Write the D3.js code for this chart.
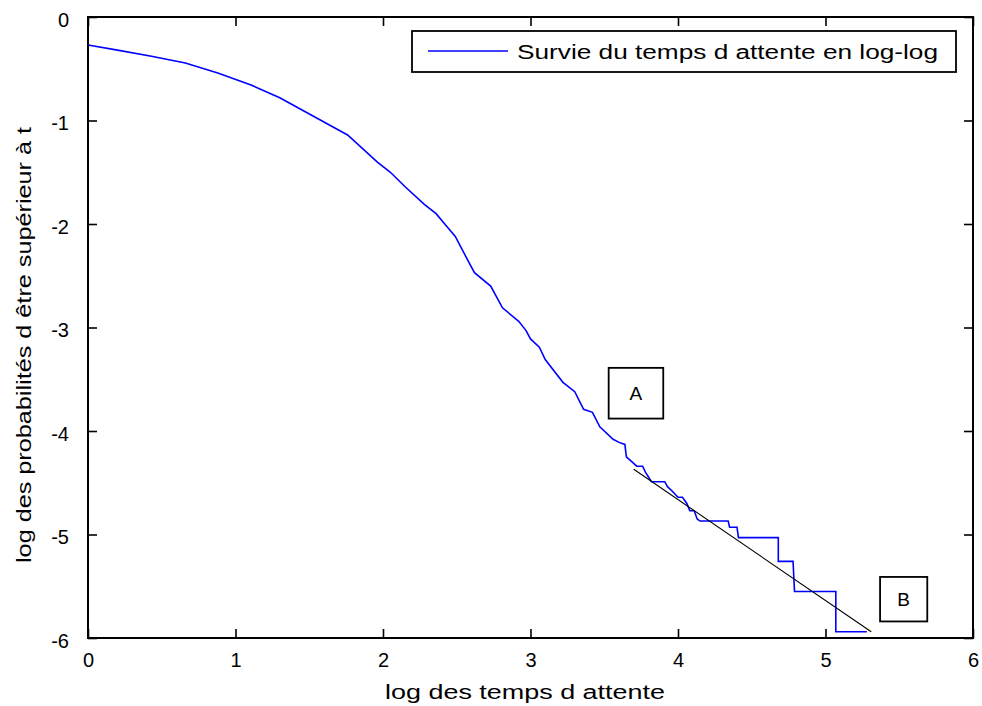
<!DOCTYPE html>
<html>
<head>
<meta charset="utf-8">
<script src="https://cdn.jsdelivr.net/npm/d3@7"></script>
<style>
  html, body { margin: 0; padding: 0; background: #fff; }
  svg { display: block; }
  text { font-family: "Liberation Sans", Arial, sans-serif; fill: #000; }
</style>
</head>
<body>
<svg id="chart" width="982" height="706"></svg>
<script>
// ---- data ----
const xTicks = [0, 1, 2, 3, 4, 5, 6];
const yTicks = [0, -1, -2, -3, -4, -5, -6];
const survX = [0, 0.2, 0.43, 0.66, 0.88, 1.11, 1.30, 1.51, 1.76, 1.96, 2.05, 2.15, 2.28, 2.36, 2.43, 2.49, 2.56, 2.62, 2.73, 2.81, 2.92, 2.97, 3.00, 3.06, 3.10, 3.16, 3.22, 3.30, 3.36, 3.42, 3.47, 3.56, 3.60, 3.64, 3.65, 3.69, 3.72, 3.76, 3.78, 3.82, 3.91, 3.93, 3.96, 4.00, 4.03, 4.06, 4.08, 4.11, 4.13, 4.15, 4.34, 4.35, 4.40, 4.41, 4.68, 4.68, 4.78, 4.79, 5.07, 5.07, 5.28];
const survY = [-0.27, -0.32, -0.38, -0.445, -0.54, -0.66, -0.78, -0.945, -1.14, -1.40, -1.50, -1.64, -1.81, -1.90, -2.02, -2.12, -2.31, -2.47, -2.60, -2.81, -2.94, -3.03, -3.11, -3.19, -3.31, -3.42, -3.53, -3.62, -3.79, -3.82, -3.96, -4.08, -4.11, -4.13, -4.25, -4.30, -4.34, -4.34, -4.40, -4.49, -4.49, -4.54, -4.58, -4.64, -4.64, -4.70, -4.77, -4.77, -4.85, -4.87, -4.87, -4.93, -4.93, -5.03, -5.03, -5.26, -5.26, -5.55, -5.55, -5.94, -5.94];
const fitX = [3.70, 5.31];
const fitY = [-4.37, -5.94];
const noteLabels = ["A", "B"];
const noteX0 = [3.53, 5.37];
const noteX1 = [3.90, 5.69];
const noteY0 = [-3.39, -5.41];
const noteY1 = [-3.88, -5.84];
const legendLabel = "Survie du temps d attente en log-log";
const xLabel = "log des temps d attente";
const yLabel = "log des probabilités d être supérieur à t";

// ---- layout ----
const L = 88, R = 973, T = 17, B = 638;
const svg = d3.select("#chart");
const x = d3.scaleLinear().domain([0, 6]).range([L, R]);
const y = d3.scaleLinear().domain([-6, 0]).range([B, T]);
const fmt = d => String(d);

// curve
const surv = survX.map((v, i) => [v, survY[i]]);
const line = d3.line().x(d => x(d[0])).y(d => y(d[1]));
svg.append("path").datum(surv).attr("d", line)
  .attr("fill", "none").attr("stroke", "#0000ff").attr("stroke-width", 1.6);

// fit line
const fit = fitX.map((v, i) => [v, fitY[i]]);
svg.append("path").datum(fit).attr("d", line)
  .attr("fill", "none").attr("stroke", "#000").attr("stroke-width", 1.1);

// annotation boxes
noteLabels.forEach((lab, i) => {
  const x0 = x(noteX0[i]), x1 = x(noteX1[i]), y0 = y(noteY0[i]), y1 = y(noteY1[i]);
  svg.append("rect").attr("x", x0).attr("y", y0).attr("width", x1 - x0).attr("height", y1 - y0)
    .attr("fill", "#fff").attr("stroke", "#000").attr("stroke-width", 1.8);
  svg.append("text").attr("x", (x0 + x1) / 2).attr("y", (y0 + y1) / 2)
    .attr("dy", "0.36em").attr("text-anchor", "middle").attr("font-size", 19).text(lab);
});

// axes frame with inward ticks on all sides
const tickLen = 9;
const axB = d3.axisBottom(x).tickValues(xTicks).tickSize(-tickLen).tickPadding(15).tickFormat(fmt);
const axT = d3.axisTop(x).tickValues(xTicks).tickSize(-tickLen).tickFormat("");
const axL = d3.axisLeft(y).tickValues(yTicks).tickSize(-tickLen).tickPadding(19).tickFormat(fmt);
const axR = d3.axisRight(y).tickValues(yTicks).tickSize(-tickLen).tickFormat("");

function style(g) {
  g.select(".domain").remove();
  g.selectAll(".tick line").attr("stroke", "#000").attr("stroke-width", 1.6);
  g.selectAll(".tick text").attr("font-size", 20).attr("fill", "#000")
    .attr("font-family", '"Liberation Sans", Arial, sans-serif');
}
svg.append("g").attr("transform", `translate(0,${B})`).call(axB).call(style);
svg.append("g").attr("transform", `translate(0,${T})`).call(axT).call(style);
svg.append("g").attr("transform", `translate(${L},0)`).call(axL).call(style)
  .selectAll(".tick text").attr("dy", "0.45em");
svg.append("g").attr("transform", `translate(${R},0)`).call(axR).call(style);

svg.append("rect").attr("x", L).attr("y", T).attr("width", R - L).attr("height", B - T)
  .attr("fill", "none").attr("stroke", "#000").attr("stroke-width", 2);

// legend
svg.append("rect").attr("x", 412).attr("y", 31).attr("width", 544).attr("height", 41)
  .attr("fill", "#fff").attr("stroke", "#000").attr("stroke-width", 1.8);
svg.append("line").attr("x1", 428).attr("x2", 508).attr("y1", 51).attr("y2", 51)
  .attr("stroke", "#0000ff").attr("stroke-width", 1.6);
svg.append("text").attr("x", 517).attr("y", 59).attr("font-size", 20)
  .attr("textLength", 421).attr("lengthAdjust", "spacingAndGlyphs").text(legendLabel);

// axis labels
svg.append("text").attr("x", 525).attr("y", 699).attr("text-anchor", "middle").attr("font-size", 20)
  .attr("textLength", 280).attr("lengthAdjust", "spacingAndGlyphs").text(xLabel);
svg.append("text").attr("transform", "translate(31,345) rotate(-90)").attr("text-anchor", "middle")
  .attr("font-size", 20).attr("textLength", 436).attr("lengthAdjust", "spacingAndGlyphs").text(yLabel);
</script>
</body>
</html>
